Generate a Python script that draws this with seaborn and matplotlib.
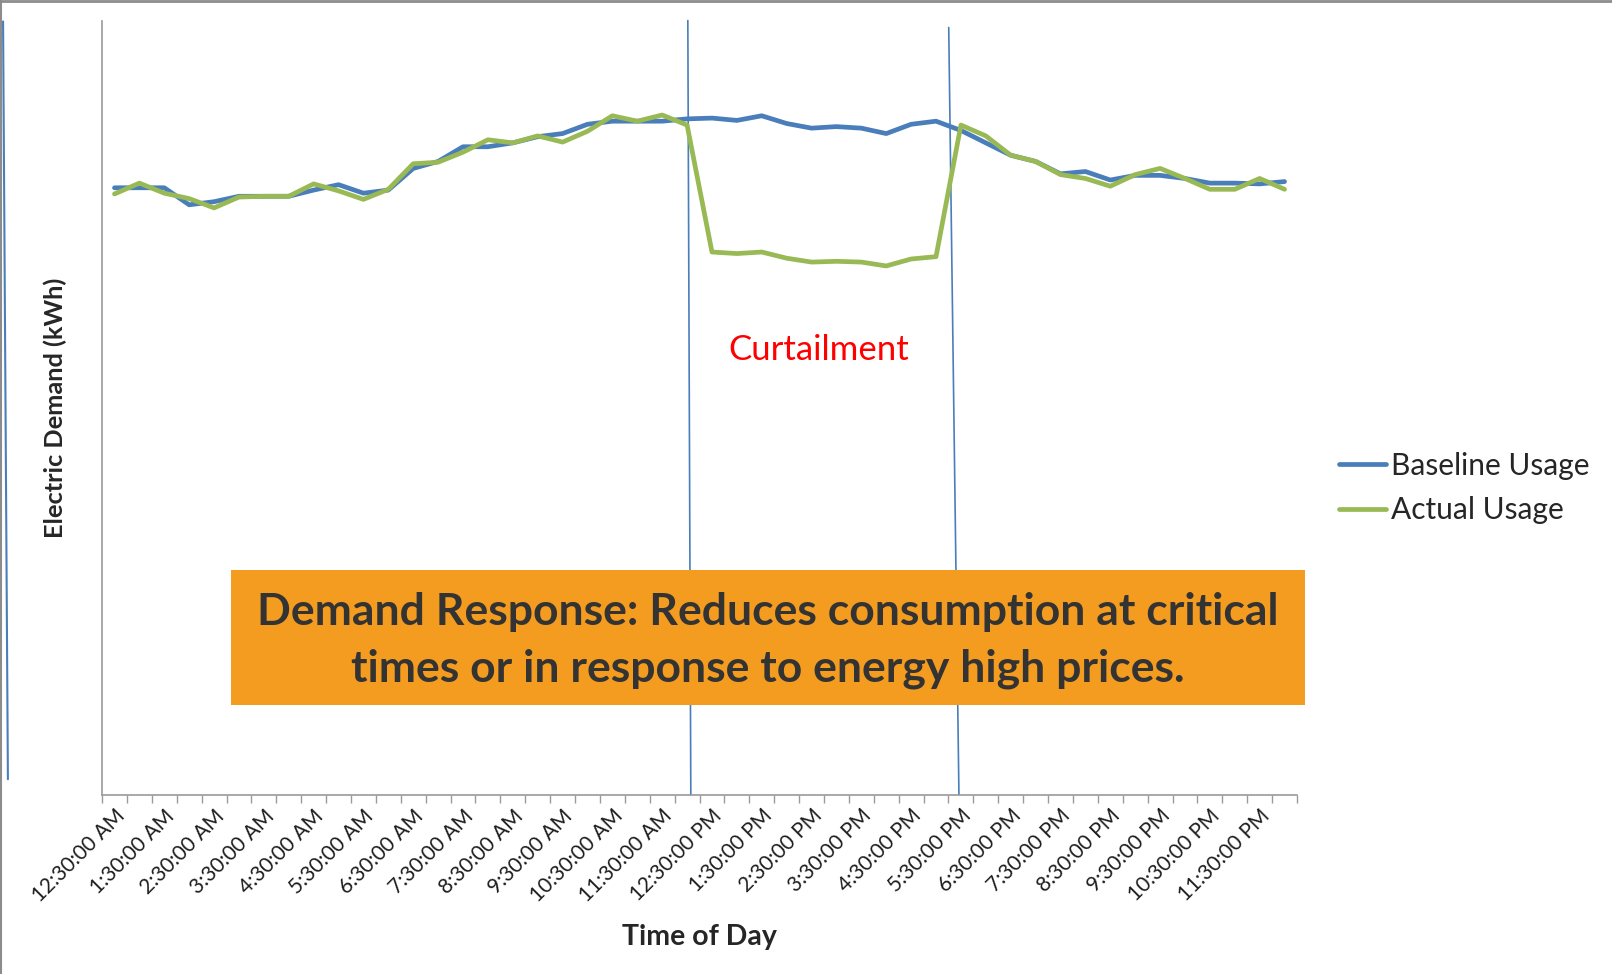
import numpy as np
import pandas as pd
import matplotlib
matplotlib.use("Agg")
import matplotlib.pyplot as plt
from matplotlib.lines import Line2D
from matplotlib.patches import Rectangle
import seaborn as sns

# ---------------------------------------------------------------------------
# Data (arbitrary kWh scale, axis 0-100)
# ---------------------------------------------------------------------------
slots = list(range(48))
tick_labels = [
    '12:30:00 AM', '1:30:00 AM', '2:30:00 AM', '3:30:00 AM', '4:30:00 AM',
    '5:30:00 AM', '6:30:00 AM', '7:30:00 AM', '8:30:00 AM', '9:30:00 AM',
    '10:30:00 AM', '11:30:00 AM', '12:30:00 PM', '1:30:00 PM', '2:30:00 PM',
    '3:30:00 PM', '4:30:00 PM', '5:30:00 PM', '6:30:00 PM', '7:30:00 PM',
    '8:30:00 PM', '9:30:00 PM', '10:30:00 PM', '11:30:00 PM',
]
baseline = [
    78.4, 78.4, 78.4, 76.2, 76.6, 77.3, 77.3, 77.3, 78.1, 78.8,
    77.7, 78.1, 80.9, 81.8, 83.7, 83.7, 84.2, 85.0, 85.4, 86.6,
    87.0, 87.0, 87.0, 87.3, 87.4, 87.1, 87.7, 86.7, 86.1, 86.3,
    86.1, 85.4, 86.6, 87.0, 85.8, 84.2, 82.6, 81.8, 80.2, 80.5,
    79.4, 80.0, 80.0, 79.6, 79.0, 79.0, 78.9, 79.2,
]
actual = [
    77.6, 79.0, 77.7, 77.0, 75.8, 77.2, 77.3, 77.3, 78.9, 78.0,
    76.9, 78.2, 81.5, 81.7, 83.0, 84.6, 84.2, 85.1, 84.3, 85.7,
    87.7, 87.0, 87.8, 86.5, 70.1, 69.9, 70.1, 69.3, 68.8, 68.9,
    68.8, 68.3, 69.2, 69.5, 86.5, 85.1, 82.6, 81.8, 80.1, 79.6,
    78.6, 80.1, 80.9, 79.6, 78.2, 78.2, 79.6, 78.2,
]
# curtailment markers (slot at top, slot at bottom, value at top) - hand drawn, slightly slanted
curtail_start = [23.03, 23.15, 100.0]
curtail_end = [33.51, 33.92, 99.1]
curtail_label_pos = [28.27, 57.4]

BLUE = '#4A7EBB'
GREEN = '#98B954'
AXIS_GREY = '#9A9A9A'

df = pd.concat([
    pd.DataFrame({'slot': slots, 'kWh': baseline, 'Series': 'Baseline Usage'}),
    pd.DataFrame({'slot': slots, 'kWh': actual, 'Series': 'Actual Usage'}),
])

sns.set_style('white')
plt.rcParams['font.family'] = ['Lato', 'DejaVu Sans']

fig = plt.figure(figsize=(16.12, 9.74), dpi=100)
ax = fig.add_axes([0.0633, 0.1841, 0.7413, 0.7948])

sns.lineplot(data=df, x='slot', y='kWh', hue='Series',
             palette=[BLUE, GREEN], linewidth=3.4, ax=ax, legend=True)

# curtailment boundaries
for top_x, bot_x, top_y in (curtail_start, curtail_end):
    ax.plot([top_x, bot_x], [top_y, 0], color=BLUE, lw=1.2, clip_on=False,
            zorder=1)

ax.set_xlim(-0.5, 47.5)
ax.set_ylim(0, 100)

# category axis: tick marks between categories, labels on every 2nd
ax.set_xticks(np.arange(0, 48, 2))
ax.set_xticklabels(tick_labels, rotation=45, ha='right',
                   rotation_mode='anchor', fontsize=15, color='#1E1E1E')
ax.set_xticks(np.arange(-0.5, 48, 1), minor=True)
ax.tick_params(axis='x', which='major', length=0, pad=8)
ax.tick_params(axis='x', which='minor', length=6, width=1, color=AXIS_GREY,
               bottom=True)
ax.set_yticks([])

for side in ('top', 'right'):
    ax.spines[side].set_visible(False)
for side in ('left', 'bottom'):
    ax.spines[side].set_color(AXIS_GREY)
    ax.spines[side].set_linewidth(1.2)

ax.set_xlabel('Time of Day', fontsize=20.5, fontweight='bold')
ax.set_ylabel('Electric Demand (kWh)', fontsize=18.3, fontweight='bold')
ax.xaxis.set_label_coords(0.5, -0.167)
ax.yaxis.set_label_coords(-0.029, 0.5)

ax.text(curtail_label_pos[0], curtail_label_pos[1], 'Curtailment',
        color='#FF0000', fontsize=25, ha='center', va='center')

leg = ax.legend(loc='center left', bbox_to_anchor=(0.8212, 0.499),
                bbox_transform=fig.transFigure, frameon=False, fontsize=21.5,
                handlelength=1.6, handletextpad=0.15, labelspacing=0.55,
                borderpad=0)
for h in leg.get_lines():
    h.set_linewidth(3.4)

# orange call-out box
fig.add_artist(Rectangle((0.1433, 0.2762), 0.6662, 0.1386,
                         transform=fig.transFigure, facecolor='#F49C1F',
                         edgecolor='none', zorder=5))
fig.text(0.4764, 0.3424,
         'Demand Response: Reduces consumption at critical\n'
         'times or in response to energy high prices.',
         ha='center', va='center', fontsize=32, fontweight='bold',
         color='#333333', linespacing=1.49, zorder=6)

# slide frame artifacts
fig.add_artist(Line2D([0.0019, 0.0049], [0.978, 0.2], color=BLUE, lw=1.5))
fig.add_artist(Line2D([0, 1], [0.999, 0.999], color='#8C8C8C', lw=2))
fig.add_artist(Line2D([0.0006, 0.0006], [0, 1], color='#8C8C8C', lw=1.5))

fig.savefig('out.png', dpi=100)
